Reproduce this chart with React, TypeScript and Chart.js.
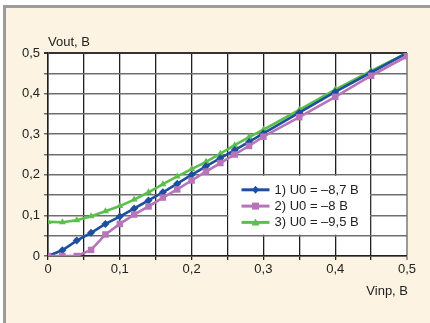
import React, { useEffect, useRef } from 'react';
import { Chart, registerables } from 'chart.js';

Chart.register(...registerables);

const xValues = [0, 0.02, 0.04, 0.06, 0.08, 0.1, 0.12, 0.14, 0.16, 0.18, 0.2, 0.22, 0.24, 0.26, 0.28, 0.3, 0.35, 0.4, 0.45, 0.5];
const series1 = [0, 0.014, 0.038, 0.057, 0.079, 0.097, 0.117, 0.137, 0.157, 0.178, 0.2, 0.221, 0.241, 0.261, 0.281, 0.302, 0.353, 0.404, 0.452, 0.5];
const series2 = [0, 0, 0, 0.015, 0.053, 0.079, 0.102, 0.122, 0.144, 0.164, 0.186, 0.208, 0.229, 0.25, 0.271, 0.294, 0.342, 0.392, 0.444, 0.492];
const series3 = [0.084, 0.083, 0.088, 0.098, 0.11, 0.123, 0.139, 0.157, 0.177, 0.196, 0.214, 0.232, 0.252, 0.273, 0.293, 0.311, 0.36, 0.41, 0.456, 0.5];
const seriesLabels = ['1) U0 = \u20138,7 B', '2) U0 = \u20138 B', '3) U0 = \u20139,5 B'];
const seriesColors = ['#1d4f9e', '#b874b8', '#5cbf4c'];
const seriesMarkers = ['rectRot', 'rect', 'triangle'];
const xTitle = 'Vinp, B';
const yTitle = 'Vout, B';
const FONT = '"Liberation Sans", Arial, sans-serif';

const fmt = (v: number) => {
  const r = Math.round(v * 100) / 100;
  if (Math.abs(Math.round(r * 10) - r * 10) > 1e-6) return '';
  return r === 0 ? '0' : r.toFixed(1).replace('.', ',');
};

const decorPlugin = {
  id: 'decor',
  beforeDraw(chart: any) {
    const { ctx, chartArea } = chart;
    ctx.save();
    ctx.fillStyle = '#ffffff';
    ctx.fillRect(chartArea.left, chartArea.top, chartArea.right - chartArea.left, chartArea.bottom - chartArea.top);
    ctx.restore();
  },
  afterDraw(chart: any) {
    const { ctx, chartArea } = chart;
    const xs = chart.scales.x;
    const ys = chart.scales.y;
    ctx.save();
    // legend box
    const l = xs.getPixelForValue(0.25);
    const r = xs.getPixelForValue(0.45);
    const t = ys.getPixelForValue(0.2);
    const b = ys.getPixelForValue(0.05);
    ctx.fillStyle = '#ffffff';
    ctx.fillRect(l + 1, t + 1, r - l - 2, b - t - 2);
    const rowH = (b - t) / 3.8;
    seriesLabels.forEach((lab, i) => {
      const y = t + 15 + i * 16.3;
      const x0 = l + 14;
      const x1 = l + 42;
      ctx.strokeStyle = seriesColors[i];
      ctx.lineWidth = 3;
      ctx.beginPath();
      ctx.moveTo(x0, y);
      ctx.lineTo(x1, y);
      ctx.stroke();
      ctx.fillStyle = seriesColors[i];
      const cx = (x0 + x1) / 2;
      if (i === 0) {
        ctx.beginPath();
        ctx.moveTo(cx, y - 4);
        ctx.lineTo(cx + 3.5, y);
        ctx.lineTo(cx, y + 4);
        ctx.lineTo(cx - 3.5, y);
        ctx.closePath();
        ctx.fill();
      } else if (i === 1) {
        ctx.fillRect(cx - 3.5, y - 3.5, 7, 7);
      } else {
        ctx.beginPath();
        ctx.moveTo(cx, y - 4);
        ctx.lineTo(cx + 4, y + 3);
        ctx.lineTo(cx - 4, y + 3);
        ctx.closePath();
        ctx.fill();
      }
      ctx.fillStyle = '#222222';
      ctx.font = '13px ' + FONT;
      ctx.textAlign = 'left';
      ctx.textBaseline = 'middle';
      ctx.fillText(lab, l + 47, y + 0.5);
    });
    // axis titles
    ctx.fillStyle = '#222222';
    ctx.font = '13px ' + FONT;
    ctx.textBaseline = 'middle';
    ctx.textAlign = 'left';
    ctx.fillText(yTitle, chartArea.left, chartArea.top - 11);
    ctx.textAlign = 'right';
    ctx.fillText(xTitle, chartArea.right + 1, chartArea.bottom + 35);
    ctx.restore();
  },
};

export default function App() {
  const ref = useRef<HTMLCanvasElement | null>(null);
  useEffect(() => {
    if (!ref.current) return;
    const mk = (data: number[], i: number) => ({
      label: seriesLabels[i],
      data: xValues.map((x, k) => ({ x, y: data[k] })),
      borderColor: seriesColors[i],
      backgroundColor: seriesColors[i],
      borderWidth: 2.6,
      pointStyle: seriesMarkers[i],
      pointRadius: i === 1 ? 4.6 : i === 0 ? 4 : 4,
      pointBorderWidth: 0,
      tension: 0,
      order: i === 1 ? 0 : i === 0 ? 1 : 2,
    });
    const chart = new Chart(ref.current, {
      type: 'line',
      data: { datasets: [mk(series1, 0), mk(series2, 1), mk(series3, 2)] },
      options: {
        animation: false,
        responsive: false,
        layout: { padding: { top: 53, right: 23, left: 0, bottom: 0 } },
        plugins: { legend: { display: false }, tooltip: { enabled: false } },
        scales: {
          x: {
            type: 'linear',
            min: 0,
            max: 0.5,
            afterFit: (s: any) => { s.height = 67; },
            ticks: {
              stepSize: 0.05,
              autoSkip: false,
              maxRotation: 0,
              padding: 2,
              color: '#222222',
              font: { family: FONT, size: 13 },
              callback: (v: any) => fmt(Number(v)),
            },
            grid: {
              tickLength: 4,
              color: (c: any) => (c.tick && Math.abs(c.tick.value - 0.5) < 1e-6 ? '#9a9a9a' : '#1e1e1e'),
              lineWidth: (c: any) => (c.tick && Math.abs(c.tick.value - 0.5) < 1e-6 ? 2 : 1.3),
            },
            border: { color: '#222222', width: 1.5 },
          },
          y: {
            type: 'linear',
            min: 0,
            max: 0.5,
            afterFit: (s: any) => { s.width = 48; },
            ticks: {
              stepSize: 0.05,
              autoSkip: false,
              padding: 4,
              color: '#222222',
              font: { family: FONT, size: 13 },
              callback: (v: any) => fmt(Number(v)),
            },
            grid: {
              tickLength: 4,
              color: (c: any) => (c.tick && Math.abs(c.tick.value - 0.5) < 1e-6 ? '#333333' : '#6e6e6e'),
              lineWidth: (c: any) => (c.tick && Math.abs(c.tick.value - 0.5) < 1e-6 ? 2 : 1.5),
            },
            border: { color: '#1e1e1e', width: 1.5 },
          },
        },
      },
      plugins: [decorPlugin],
    } as any);
    return () => chart.destroy();
  }, []);
  return (
    <div style={{ position: 'fixed', left: 0, top: 0, width: 430, height: 323, background: '#ffffff' }}>
      <div
        style={{
          position: 'absolute',
          left: 3,
          top: 5,
          width: 427,
          height: 315,
          background: '#fcf3e2',
          borderLeft: '3px solid #9c9c9c',
          borderTop: '3px solid #9c9c9c',
          borderBottom: '1px solid #d8d8d8',
        }}
      />
      <canvas ref={ref} width={430} height={323} style={{ position: 'absolute', left: 0, top: 0, width: 430, height: 323 }} />
    </div>
  );
}
